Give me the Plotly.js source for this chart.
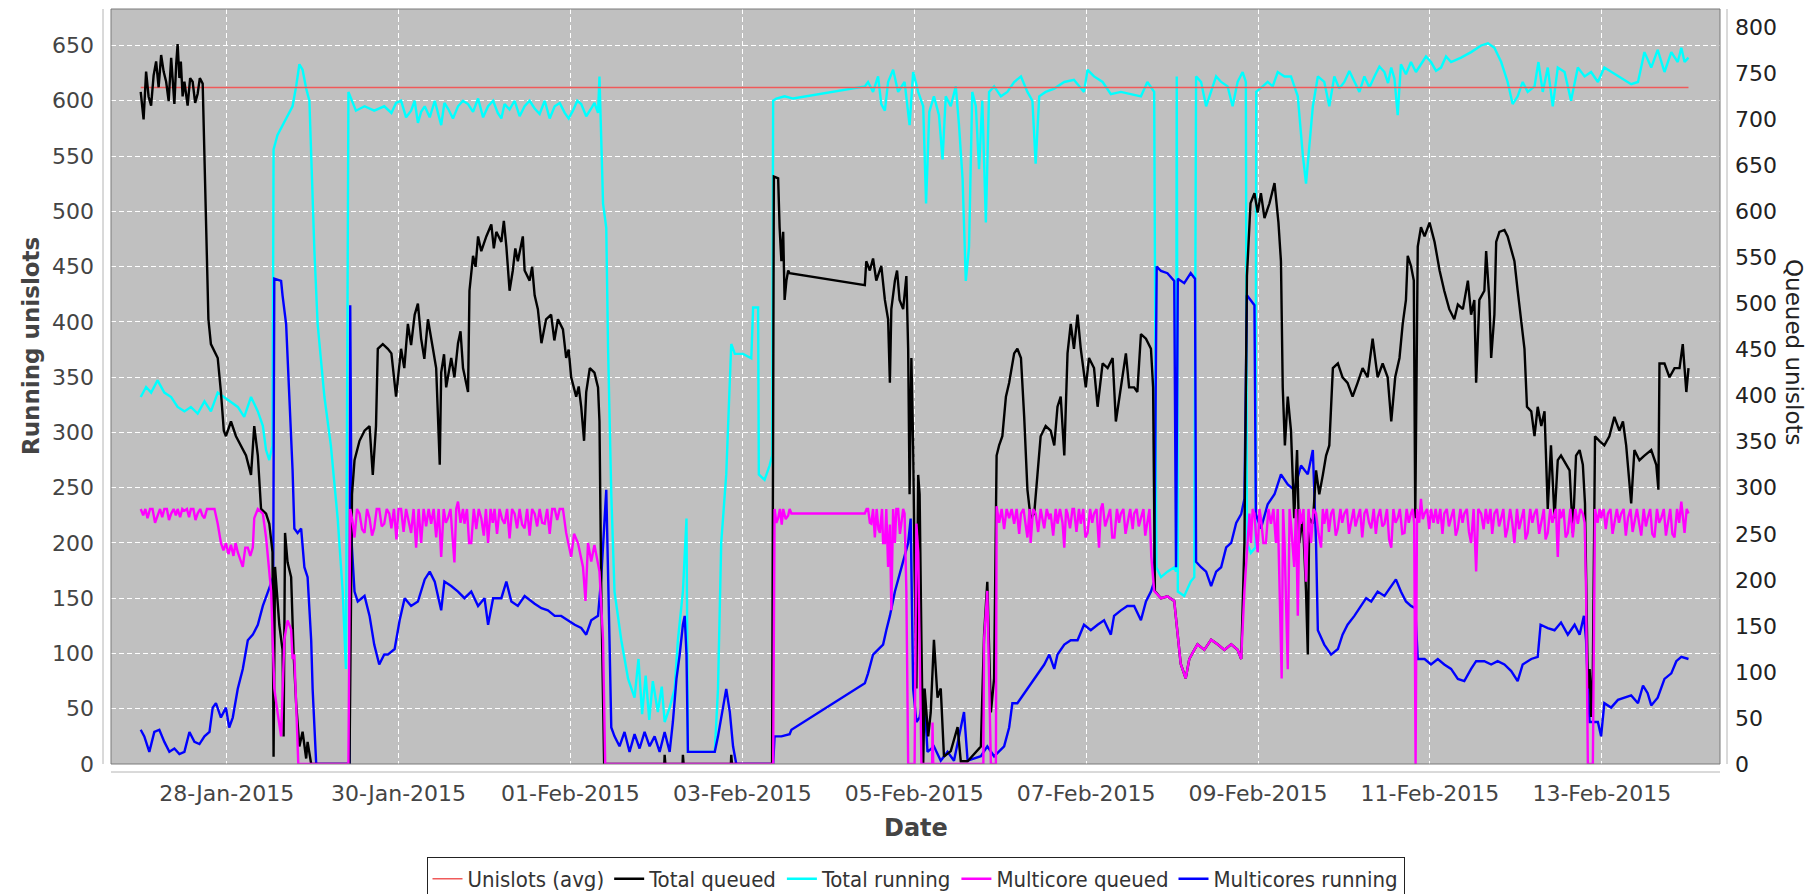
<!DOCTYPE html>
<html><head><meta charset="utf-8">
<script src="https://cdn.plot.ly/plotly-3.0.1.min.js"></script>
<style>html,body{margin:0;padding:0;background:#fff}#chart{width:1818px;height:894px}</style>
</head><body><div id="chart"></div>
<script>
// x values: hours since 2015-01-27 00:00
const tickHours = [24, 72, 120, 168, 216, 264, 312, 360, 408];
const tickLabels = ['28-Jan-2015','30-Jan-2015','01-Feb-2015','03-Feb-2015','05-Feb-2015','07-Feb-2015','09-Feb-2015','11-Feb-2015','13-Feb-2015'];

// Running series (left axis)
const unislotsAvgPts = [[0,612],[432.2,612]];

const totalRunningPts = [
[0,332],[1.5,341],[2.9,336],[4.7,347],[6.6,336],[8.5,332],[10.3,323],[12.2,319],[14.0,323],[15.9,317],[17.8,328],[19.6,319],[21.5,336],[23.3,332],[25.2,328],[27.1,323],[28.9,314],[30.8,332],[32.7,319],[34.1,306],[35.0,284],[35.9,275],[36.8,288],
[37.1,556],[38.2,569],[39.6,578],[41.0,587],[42.4,595],[43.4,613],[44.3,633],[45.2,628],[46.2,611],[47.1,600],[48.5,464],[49.4,398],[51.3,332],[53.1,288],[55.0,222],[56.4,156],[57.3,86],
[58.0,608],[60.1,591],[62.5,595],[65.2,591],[68.0,595],[70.0,589],[71.3,598],[72.7,600],[74.1,585],[75.5,591],[76.5,600],[77.4,580],[78.3,590],[79.3,595],[80.7,585],[82.1,600],[83.9,578],[84.8,598],[85.8,593],[87.2,584],[88.6,595],[90.0,600],[91.4,597],[92.8,590],[94.2,602],[95.6,585],[97.0,595],[98.4,600],[99.7,589],[100.7,584],[101.6,597],[103.0,592],[104.4,600],[105.8,586],[107.2,595],[108.6,600],[110.0,593],[111.4,588],[112.8,600],[114.2,584],[115.6,595],[117.0,598],[118.4,589],[119.5,584],[120.7,591],[121.9,600],[123.0,597],[124.4,586],[125.8,593],[126.7,598],[127.7,589],[128.1,622],
[129.1,507],[130.0,485],[130.5,376],[131.4,244],[132.3,156],[134.2,112],[136.1,77],[137.9,60],[139.0,95],[140.0,45],[141.0,80],[142.0,40],[143.0,75],[144.4,47],[145.5,70],[146.3,38],[147.7,51],[149.1,68],[150.0,112],[151.4,156],[152.4,222],[152.8,11],[160.3,11],[161.2,68],[162.1,200],[163.5,262],[164.9,380],[165.9,371],[168.2,371],[170.5,367],[171.0,413],[172.4,413],[172.6,262],[174.2,257],[175.6,270],[176.3,279],
[176.6,600],[177.5,602],[179.8,604],[182.2,602],[202.2,613],[203.1,617],[204.5,608],[205.9,622],[206.8,597],[207.8,591],[208.7,617],[210.1,628],[211.5,608],[213.3,617],[214.7,578],[215.7,626],[217.1,608],[218.5,595],[219.3,507],[220.2,590],[221.5,604],[222.9,587],[223.9,547],[224.8,604],[226.2,595],[227.6,613],[228.5,578],[229.5,529],[230.4,437],[231.3,468],[232.2,608],[233.2,595],[234.1,538],[235.0,600],[236.0,490],[236.9,608],[238.3,613],[240.2,604],[242.0,608],[243.9,617],[245.8,622],[247.6,608],[249.0,600],[249.9,543],[250.9,604],[252.7,608],[255.1,611],[257.9,617],[260.6,619],[263.4,608],[264.4,628],[266.2,622],[268.6,617],[270.9,606],[273.7,608],[276.5,606],[279.3,604],[281.1,617],[283.0,608],
[283.6,178],[284.9,169],[286.7,174],[288.6,178],[289.1,174],[289.3,622],[289.6,156],[291.4,152],[293.2,165],[294.2,169],
[294.7,622],[296.1,617],[297.5,595],[298.9,608],[300.3,622],[301.7,617],[303.5,613],[304.9,595],[306.3,617],[307.7,626],[308.6,617],[308.9,200],[310.0,191],[311.3,196],
[311.5,608],[313.3,613],[314.7,617],[316.1,613],[317.5,626],[319.4,622],[321.2,622],[323.1,604],[324.5,551],[325.4,525],[326.3,556],[327.3,595],[328.7,622],[330.5,617],[331.9,595],[333.3,622],[334.7,611],[336.1,617],[337.5,627],[338.9,617],[340.3,608],[341.7,622],[343.1,612],[344.5,622],[345.9,631],[347.3,626],[348.3,616],[349.2,630],[350.1,620],[351.0,587],[351.9,633],[353.3,624],[354.7,635],[356.1,626],[357.5,633],[358.9,640],[360.3,635],[361.7,627],[363.1,630],[364.5,640],[365.9,635],[368.7,639],[371.5,644],[374.3,650],[376.2,652],[378.0,648],[379.9,635],[381.7,617],[383.1,597],[384.5,604],[385.9,617],[387.3,608],[389.2,613],[390.3,635],[391.5,608],[392.9,630],[394.3,595],[395.7,630],[397.6,626],[399.4,600],[401.3,630],[403.2,622],[405.0,626],[406.9,617],[408.7,630],[410.6,626],[412.5,622],[414.3,619],[416.2,615],[418.1,617],[419.9,644],[421.8,630],[423.6,646],[425.5,626],[427.4,644],[429.2,635],[430.2,648],[431.1,635],[432.2,639]
];

const multicoresRunningPts = [
[0,31],[1.0,25],[2.4,11],[3.8,29],[5.2,31],[6.6,20],[8.0,11],[9.4,14],[10.8,9],[12.2,11],[13.6,29],[15.0,20],[16.4,18],[17.8,25],[19.2,29],[20.1,51],[21.0,55],[22.4,42],[23.8,51],[24.7,33],[25.7,42],[27.1,68],[28.5,86],[29.9,112],[31.3,117],[32.7,126],[34.1,143],[35.5,156],[36.4,165],[37.0,169],
[37.3,439],[39.2,437],[39.6,424],[40.6,398],[41.5,332],[42.4,266],[42.9,213],[43.8,209],[44.8,213],[45.7,178],[46.6,169],[47.6,112],[48.0,68],[49.0,0],[58.3,0],
[58.5,415],[58.9,200],[59.7,156],[60.6,147],[62.5,152],[63.9,134],[65.2,108],[66.6,90],[68.0,99],[69.0,99],[70.9,104],[72.3,130],[73.7,150],[75.5,143],[77.4,147],[79.3,167],[80.7,174],[82.1,165],[83.9,139],[84.8,165],[86.7,161],[88.6,156],[90.4,150],[92.3,156],[94.2,143],[96.0,150],[97.0,126],[98.4,150],[100.7,150],[102.1,165],[103.5,147],[105.3,143],[107.2,152],[110.0,145],[111.9,141],[113.7,139],[115.6,134],[117.4,134],[119.3,130],[121.2,126],[123.0,123],[124.4,117],[125.8,130],[127.7,134],[128.6,169],[130.0,248],[130.9,112],[131.4,33],
[132.3,25],[133.7,16],[135.1,29],[136.5,11],[137.9,27],[139.3,14],[140.7,29],[142.1,16],[143.5,25],[144.9,11],[146.3,29],[147.7,11],[148.6,38],[149.6,77],[150.5,99],[151.4,126],[151.9,134],[152.4,99],[152.8,11],[160.3,11],[161.2,25],[162.6,51],[163.5,68],[164.5,47],[165.4,16],[166.3,0],[176.6,0],
[177.0,25],[178.9,25],[181.2,27],[181.7,31],[202.2,73],[203.1,82],[204.5,99],[205.9,104],[207.3,108],[208.2,121],[209.2,134],[210.6,156],[211.9,172],[213.3,187],[214.3,200],[215.0,222],[215.7,68],[216.6,38],[217.5,42],[218.7,68],[219.7,11],[221.5,16],[223.4,3],[225.3,11],[227.1,3],[229.9,47],[230.9,3],[234.6,7],[236.4,16],[238.3,7],[241.1,16],
[242.5,33],[243.4,55],[244.8,55],[246.7,64],[248.5,73],[250.4,82],[252.3,90],[253.7,99],[255.1,86],[256.0,99],[257.9,108],[259.7,112],[261.6,112],[263.4,126],[265.3,121],[267.2,126],[269.0,130],[270.9,117],[271.8,134],[273.7,139],[275.5,143],[277.4,143],[279.3,130],[280.7,147],[282.1,156],[283.0,165],
[283.7,450],[284.9,446],[286.7,444],[288.6,437],[289.1,178],[289.6,439],[291.4,435],[293.2,444],[294.4,439],
[294.7,183],[296.1,178],[297.5,174],[298.9,161],[300.3,174],[301.7,178],[303.1,196],[304.5,200],[305.9,218],[307.3,226],[308.2,240],[308.9,424],[311.0,415],[311.4,226],[312.8,213],[314.7,235],[316.6,244],[318.4,262],[320.3,253],[322.1,248],[324.0,270],[325.9,262],[327.3,284],[328.2,200],
[328.7,121],[330.5,108],[332.4,99],[334.3,104],[335.6,117],[337.0,126],[338.9,134],[340.8,143],[342.2,150],[343.6,147],[345.4,156],[347.3,152],[349.2,161],[350.5,167],[351.9,156],[353.3,147],[354.7,143],[355.9,141],[356.6,95],[358.5,95],[360.3,90],[362.2,95],[364.0,90],[365.9,86],[367.8,77],[369.6,75],[371.5,86],[372.9,93],[375.2,93],[377.1,90],[378.9,93],[380.8,90],[382.7,84],[384.5,75],[385.9,90],[388.3,95],[390.1,97],
[390.9,126],[392.9,123],[394.8,121],[396.6,128],[398.5,117],[400.4,126],[401.8,117],[403.0,134],[403.6,112],[404.1,68],[404.6,38],[406.9,38],[407.8,25],[408.7,55],[410.6,51],[412.5,58],[414.3,60],[416.2,62],[418.1,55],[419.5,71],[420.8,64],[421.8,53],[423.6,60],[425.5,77],[427.4,82],[428.8,93],[430.2,97],[432.2,95]
];

// Queued series (right axis)
const totalQueuedPts = [
[0,730],[0.8,700],[1.5,752],[2.2,725],[2.9,715],[3.6,748],[4.3,763],[5.0,735],[5.7,770],[6.4,752],[7.1,741],[7.8,720],[8.5,767],[9.4,717],[9.9,760],[10.3,782],[10.8,745],[11.2,763],[11.7,725],[12.2,741],[13.1,715],[13.8,745],[14.5,741],[15.2,718],[15.9,728],[16.5,745],[17.3,739],
[18.2,583],[18.9,483],[19.6,456],[21.5,441],[22.4,404],[23.2,362],[23.8,356],[25.2,372],[26.6,356],[28.0,346],[29.4,335],[30.8,314],[31.7,367],[32.7,335],[33.6,277],[35.0,272],[35.9,261],[36.8,230],[37.1,8],[37.5,214],[38.7,151],[39.6,124],[39.9,30],[40.3,251],[41.0,219],[42.0,203],[42.7,119],[43.4,66],[44.3,19],[45.2,35],[46.2,6],[46.6,24],[47.6,0],[58.3,0],
[59.0,293],[59.7,330],[61.1,351],[62.5,362],[63.9,367],[64.8,314],[65.7,367],[66.2,451],[67.6,456],[69.0,451],[70.0,446],[71.3,399],[72.7,451],[73.6,430],[74.6,478],[75.5,455],[76.5,488],[77.4,500],[78.3,462],[79.2,440],[80.2,483],[81.6,451],[82.5,430],[83.5,325],[83.9,425],[84.7,445],[85.3,409],[86.7,441],[87.6,420],[88.6,457],[89.3,470],[90.0,430],[91.4,404],
[91.8,514],[92.8,552],[93.5,540],[94.2,573],[95.1,557],[96.5,573],[97.9,586],[98.6,560],[99.3,578],[100.7,567],[101.4,590],[102.1,562],[103.0,514],[103.9,536],[104.6,560],[105.3,546],[106.7,573],[107.2,536],[108.6,525],[109.3,540],[110.0,509],[110.9,494],[111.9,457],[112.5,470],[113.2,483],[114.6,488],[115.5,460],[116.5,483],[117.9,472],[118.8,441],[119.5,450],[120.2,420],[121.6,399],[122.3,410],[123.0,388],[123.8,351],[124.4,404],[125.4,430],[126.7,425],[127.7,409],[128.1,372],[128.6,188],[129.4,0],
[146.2,0],[146.3,10],[146.5,0],[151.3,0],[151.4,10],[151.6,0],[164.8,0],[164.9,10],[165.1,0],[176.3,0],
[176.8,638],[178.0,636],[178.4,583],[178.9,546],[179.4,578],[179.8,504],[180.3,525],[180.8,536],[181.2,533],[202.2,520],[202.6,546],[203.6,536],[204.5,549],[205.4,525],[206.8,541],[207.8,504],[208.7,483],[209.2,414],[209.6,494],[210.6,525],[211.2,536],[211.9,504],[212.9,494],[213.8,530],[214.3,451],[214.7,293],[215.2,441],[215.7,346],[216.1,214],[216.6,82],[217.1,314],[217.5,293],[218.0,135],[218.5,0],[218.9,82],[219.9,30],[220.6,56],[221.5,135],[222.5,72],[223.4,82],[224.3,8],[226.2,14],[228.1,40],[229.0,3],[230.9,3],[234.6,19],[235.5,140],[236.4,198],[237.4,56],[238.3,93],
[239.0,335],[239.7,346],[240.6,356],[241.6,399],[242.5,414],[243.9,446],[244.8,451],[245.8,441],[246.7,377],[247.6,298],[248.5,267],[249.5,272],[250.4,314],[251.3,356],[252.7,367],[254.1,362],[255.1,346],[256.0,388],[256.9,399],[257.9,335],[258.8,446],[259.7,478],[260.6,451],[261.6,488],[262.5,451],[263.9,409],[264.8,441],[266.2,430],[267.2,388],[268.6,435],[270.0,430],[271.4,441],[272.3,372],[273.7,409],[275.1,446],[276.0,409],[277.4,409],[278.3,404],[279.3,467],[280.7,462],[282.1,451],[282.7,409],
[283.2,188],[284.9,180],[286.7,182],[288.6,177],[289.7,130],[290.4,109],[291.8,93],[292.8,114],[294.2,124],[295.1,130],[297.0,124],[298.9,135],[300.7,130],[302.6,124],[304.5,130],[306.3,124],[307.3,114],[308.2,240],
[308.9,530],[309.9,609],[311.0,620],[311.9,599],[312.8,620],[313.8,593],[315.2,609],[316.6,631],[317.7,588],[318.4,546],[318.9,409],[319.5,346],[320.3,399],[321.2,362],[322.1,267],[322.9,341],[323.5,240],[324.5,267],[325.4,188],[325.9,119],[326.3,267],[327.3,261],[328.2,319],[329.1,293],[330.1,314],[331.0,335],[331.9,346],
[332.9,430],[334.3,435],[335.6,420],[337.0,414],[338.4,399],[339.8,414],[341.2,430],[342.6,420],[344.0,462],[345.4,420],[346.8,435],[348.2,420],[349.2,372],[350.3,420],[351.5,441],[352.4,478],[353.3,504],[353.8,552],[354.7,541],[355.5,525],[355.9,267],[356.6,562],[357.5,583],[358.5,573],[359.9,588],[361.3,567],[362.7,536],[364.0,514],[365.4,494],[366.8,483],[367.8,499],[369.2,494],[370.6,525],[371.5,488],[372.4,504],[372.9,414],[373.8,504],[375.2,514],[375.7,557],[376.6,504],[377.1,441],[378.0,488],[378.5,567],[379.4,578],[380.8,580],[381.7,573],[382.7,557],[383.6,546],[384.5,514],[385.5,478],[386.4,451],
[387.1,388],[388.3,383],[389.2,356],[390.1,388],[391.1,367],[392.0,383],[392.9,277],[393.8,346],[394.8,267],[395.7,330],[396.6,335],[398.0,325],[399.0,319],[399.9,251],[400.8,335],[401.8,341],[402.7,325],[403.3,283],[404.1,82],[404.6,103],[405.0,51],[405.5,103],
[406.1,356],[407.3,351],[408.7,346],[410.1,356],[411.5,377],[412.9,362],[413.9,372],[414.8,346],[416.2,283],[417.1,341],[418.5,330],[419.9,335],[421.8,341],[423.2,325],[423.8,298],[424.1,435],[425.5,435],[426.9,420],[428.3,430],[429.7,430],[430.6,456],[431.1,430],[431.6,404],[432.2,430]
];

const multicoreQueuedPts = [
[0,277],[0.7,270],[1.3,277],[1.9,267],[2.6,277],[3.3,277],[4.0,262],[4.7,270],[5.4,277],[6.0,268],[6.6,277],[7.3,277],[7.9,265],[8.5,272],[9.2,277],[9.8,270],[10.3,277],[11.0,268],[11.6,277],[12.2,275],[12.9,277],[13.5,268],[14.0,277],[14.7,277],[15.3,265],[15.9,272],[16.6,277],[17.2,270],[17.8,267],[18.5,277],[19.1,277],[19.6,277],[20.6,277],[21.5,261],
[22.4,240],[23.1,232],[23.8,240],[24.5,228],[25.2,238],[25.9,226],[26.5,240],[27.1,230],[27.8,222],[28.5,214],[29.2,235],[29.9,235],[30.6,226],[31.3,235],[31.7,267],[32.7,277],[34.1,272],[35.0,246],[36.4,188],[37.3,82],[38.2,56],[39.2,30],[40.1,135],[41.0,156],[42.0,146],[42.4,114],[42.9,119],[43.4,56],[44.0,0],[58.0,0],
[58.5,277],[59.2,262],[59.7,246],[60.4,277],[61.1,272],[61.8,255],[62.5,251],[63.2,277],[63.9,267],[64.6,248],[65.2,256],[65.9,277],[66.6,277],[67.3,258],[68.0,261],[68.7,277],[69.4,272],[70.0,256],[70.7,277],[71.4,244],[72.0,277],[72.7,277],[73.4,252],[74.1,277],[74.8,264],[75.5,251],[76.2,277],[76.9,235],[77.6,277],[78.3,240],[79.0,277],[79.7,258],[80.4,277],[81.1,261],[81.8,277],[82.5,246],[83.2,277],[83.9,225],[84.6,277],[85.2,262],[85.8,267],[86.5,277],[87.0,250],[87.6,219],[88.1,277],[88.6,285],[89.3,262],[90.0,277],[90.4,261],[91.1,277],[91.7,240],[92.3,240],[93.0,277],[93.7,255],[94.4,277],[95.1,267],[95.8,248],[96.4,277],[97.0,240],[97.7,277],[98.3,262],[98.8,277],[99.5,250],[100.2,277],[100.9,266],[101.6,261],[102.3,277],[103.0,245],[103.7,277],[104.4,272],[105.1,256],[105.8,277],[106.5,260],[107.2,256],[107.9,277],[108.6,248],[109.3,277],[110.0,272],[110.7,258],[111.4,277],[112.1,262],[112.8,261],[113.5,277],[114.2,250],[114.9,277],[115.6,277],[116.3,265],[117.0,277],[117.9,277],
[118.8,251],[120.2,225],[121.0,250],[122.1,240],[123.5,214],[124.2,177],[124.9,240],[125.8,220],[126.7,238],[128.1,209],[129.1,135],[129.7,0],[176.6,0],
[177.0,277],[177.5,262],[178.0,267],[178.5,277],[179.0,260],[179.4,277],[180.1,266],[180.8,270],[181.2,277],[181.7,272],
[202.2,272],[202.7,277],[203.1,277],[203.6,262],[204.0,261],[204.5,277],[205.0,246],[205.5,277],[206.0,255],[206.4,251],[207.0,277],[207.3,240],[207.8,240],[208.2,277],[208.7,214],[209.2,260],[209.6,167],[210.1,277],[210.6,240],[211.0,277],[211.5,277],[212.0,250],[212.4,261],[212.9,277],[213.3,272],[213.8,188],[214.3,0],[216.1,0],[216.6,261],[217.1,230],[218.0,0],[221.0,0],[221.1,45],[221.3,0],[235.3,0],[235.5,135],[236.4,188],[237.4,0],[238.8,0],
[239.0,280],[239.7,262],[240.4,277],[241.1,255],[241.8,277],[242.5,267],[243.2,277],[243.9,261],[244.6,277],[245.3,250],[245.8,272],[246.5,277],[247.2,258],[247.6,246],[248.2,277],[248.5,240],[249.2,277],[249.9,272],[250.6,252],[251.3,277],[252.0,262],[252.3,256],[253.0,277],[253.7,266],[254.1,272],[254.8,248],[255.5,277],[256.0,261],[256.7,277],[257.4,262],[257.9,235],[258.4,277],[258.8,272],[259.5,256],[260.2,277],[260.6,277],[261.3,252],[262.0,277],[262.5,261],[263.2,277],[263.8,246],[264.4,251],[265.1,277],[265.7,262],[266.2,272],[266.9,277],[267.6,235],[268.1,277],[268.6,283],[269.3,258],[270.0,267],[270.7,277],[271.3,246],[271.9,246],[272.6,277],[273.2,262],[273.7,272],[274.4,277],[275.0,250],[275.6,261],[276.3,277],[277.0,255],[277.4,272],[278.1,277],[278.7,258],[279.3,267],[280.0,277],[280.5,248],[281.1,261],[281.7,277],[282.2,225],[283.0,188],
[284.9,180],[286.7,182],[288.6,177],[289.7,130],[290.4,109],[291.8,93],[292.8,114],[294.2,124],[295.1,130],[297.0,124],[298.9,135],[300.7,130],[302.6,124],[304.5,130],[306.3,124],[307.3,114],[308.2,188],
[309.6,272],[310.0,240],[310.5,277],[311.0,272],[311.4,250],[311.9,230],[312.4,277],[312.8,267],[313.5,240],[314.2,240],[314.9,277],[315.6,261],[316.3,277],[317.0,240],[317.5,277],[318.0,188],[318.6,93],[319.0,277],[319.4,240],[320.3,103],[320.8,277],[321.2,261],[322.1,214],[322.6,277],[323.1,161],[323.6,277],[324.0,261],[324.7,277],[325.4,198],[326.1,277],[326.8,240],[327.5,277],
[328.2,272],[328.9,250],[329.6,235],[330.1,277],[330.5,261],[331.2,277],[331.8,252],[332.4,272],[333.0,277],[333.7,248],[334.3,256],[335.0,277],[335.5,262],[336.1,272],[336.8,277],[337.4,250],[338.0,261],[338.7,277],[339.2,258],[339.8,267],[340.5,277],[341.1,246],[341.7,272],[342.3,277],[343.0,262],[343.6,256],[344.3,277],[344.9,250],[345.4,267],[346.1,277],[346.7,258],[347.3,261],[348.0,277],[348.6,244],[349.2,235],[349.8,277],[350.4,262],[351.0,267],[351.6,277],[352.3,250],[352.9,251],[353.5,277],[354.1,262],[354.7,272],[355.2,277],[355.6,261],[356.0,0],
[356.4,277],[357.0,262],[357.5,288],[358.0,266],[358.5,272],[359.2,277],[359.8,255],[360.3,277],[361.0,262],[361.6,277],[362.2,261],[362.9,277],[363.5,250],[364.0,272],[364.7,277],[365.3,258],[365.9,267],[366.6,277],[367.2,248],[367.8,256],[368.5,277],[369.1,262],[369.6,272],[370.3,277],[370.9,252],[371.5,240],[372.2,277],[372.9,209],[373.5,277],[374.3,272],[375.0,255],[375.6,277],[376.2,261],[376.9,277],[377.4,250],[378.0,272],[378.7,277],[379.3,258],[379.9,267],[380.5,277],[381.1,246],[381.7,256],[382.4,277],[383.0,262],[383.6,240],[384.3,277],[384.9,255],[385.5,267],[386.2,277],[386.7,244],[387.3,251],[388.0,277],[388.6,262],[389.2,272],[389.8,277],[390.5,250],[391.1,261],[391.8,277],[392.3,244],[392.9,251],[393.6,277],[394.2,262],[394.8,272],[395.2,277],[395.7,225],[396.2,277],[396.6,267],[397.3,277],[397.9,246],[398.5,251],[399.2,277],[399.9,246],[400.6,277],[401.3,261],[402.0,277],[402.7,272],[403.2,262],[403.6,188],[404.1,0],[405.5,0],
[406.1,277],[406.8,262],[407.4,277],[407.8,267],[408.5,277],[409.1,255],[409.7,272],[410.4,277],[411.0,250],[411.5,261],[412.2,277],[412.8,262],[413.4,272],[414.1,277],[414.7,248],[415.3,267],[416.0,277],[416.6,252],[417.1,261],[417.8,277],[418.4,262],[419.0,248],[419.7,277],[420.3,258],[420.8,267],[421.5,277],[422.1,250],[422.7,246],[423.4,277],[424.0,262],[424.6,267],[425.3,277],[425.9,248],[426.4,261],[427.1,277],[427.7,250],[428.3,246],[429.0,277],[429.6,262],[430.2,285],[430.7,262],[431.1,251],[431.7,277],[432.2,272]
];

const leftRange = [0, 683];
const rightRange = [0, 820];
const xRange = [-8.3, 441.0];

const FONT = 'DejaVu Sans, Verdana, sans-serif';
const xs = p => p.map(d => d[0]);
const ys = p => p.map(d => d[1]);
const LW = 2.4;

const traces = [
  {name:'Total queued', x:xs(totalQueuedPts), y:ys(totalQueuedPts), yaxis:'y2', type:'scatter', mode:'lines', line:{color:'#000000', width:LW}, legendrank:2},
  {name:'Multicore queued', x:xs(multicoreQueuedPts), y:ys(multicoreQueuedPts), yaxis:'y2', type:'scatter', mode:'lines', line:{color:'#ff00ff', width:LW}, legendrank:4},
  {name:'Total running', x:xs(totalRunningPts), y:ys(totalRunningPts), type:'scatter', mode:'lines', line:{color:'#00ffff', width:LW}, legendrank:3},
  {name:'Multicores running', x:xs(multicoresRunningPts), y:ys(multicoresRunningPts), type:'scatter', mode:'lines', line:{color:'#0000ff', width:LW}, legendrank:5},
  {name:'Unislots (avg)', x:xs(unislotsAvgPts), y:ys(unislotsAvgPts), type:'scatter', mode:'lines', line:{color:'#f05a5a', width:1.5}, legendrank:1}
];

const PW = 1609, PH = 755;
const layout = {
  width:1818, height:894,
  margin:{l:111, r:98, t:9, b:130, pad:0, autoexpand:false},
  paper_bgcolor:'#ffffff', plot_bgcolor:'#c0c0c0',
  showlegend:true,
  xaxis:{range:xRange, tickmode:'array', tickvals:tickHours, ticktext:tickLabels,
    showgrid:true, gridcolor:'#ffffff', gridwidth:1, griddash:'5px,3px',
    zeroline:false, showline:false, ticks:'', ticklabelstandoff:14,
    tickfont:{family:FONT, size:22, color:'#444444'}, fixedrange:true},
  yaxis:{range:leftRange, tick0:0, dtick:50, showgrid:true, gridcolor:'#ffffff', gridwidth:1, griddash:'5px,3px',
    zeroline:false, showline:false, ticks:'', ticklabelstandoff:16,
    tickfont:{family:FONT, size:22, color:'#444444'}, fixedrange:true},
  yaxis2:{range:rightRange, overlaying:'y', side:'right', tick0:0, dtick:50, showgrid:false,
    zeroline:false, showline:false, ticks:'', ticklabelstandoff:14,
    tickfont:{family:FONT, size:22, color:'#222222'}, fixedrange:true},
  legend:{orientation:'h', x:0.5, xanchor:'center', y:-(857-764)/PH, yanchor:'top',
    bgcolor:'#ffffff', bordercolor:'#222222', borderwidth:1,
    font:{family:'DejaVu Sans Condensed, DejaVu Sans, sans-serif', size:22, color:'#333333'},
    itemwidth:30, traceorder:'normal'},
  annotations:[
    {text:'<b>Date</b>', xref:'paper', yref:'paper', x:0.5, y:-(828-764)/PH, xanchor:'center', yanchor:'middle', showarrow:false, font:{family:FONT, size:24, color:'#444444'}},
    {text:'<b>Running unislots</b>', xref:'paper', yref:'paper', x:(31-111)/PW, y:(764-346)/PH, xanchor:'center', yanchor:'middle', textangle:-90, showarrow:false, font:{family:FONT, size:23, color:'#444444'}},
    {text:'Queued unislots', xref:'paper', yref:'paper', x:1+(1794-1720)/PW, y:(764-352)/PH, xanchor:'center', yanchor:'middle', textangle:90, showarrow:false, font:{family:FONT, size:23, color:'#222222'}}
  ],
  shapes:[
    {type:'rect', xref:'paper', yref:'paper', x0:0, x1:1, y0:0, y1:1, line:{color:'#7a7a7a', width:1}, fillcolor:'rgba(0,0,0,0)', layer:'above'},
    {type:'line', xref:'paper', yref:'paper', x0:-8/PW, x1:-8/PW, y0:0, y1:1, line:{color:'#b4b4b4', width:1}},
    {type:'line', xref:'paper', yref:'paper', x0:0, x1:1, y0:-8/PH, y1:-8/PH, line:{color:'#b4b4b4', width:1}},
    {type:'line', xref:'paper', yref:'paper', x0:1+7/PW, x1:1+7/PW, y0:0, y1:1, line:{color:'#b4b4b4', width:1}}
  ]
};

Plotly.newPlot('chart', traces, layout, {staticPlot:true, displayModeBar:false});
</script>
</body></html>
